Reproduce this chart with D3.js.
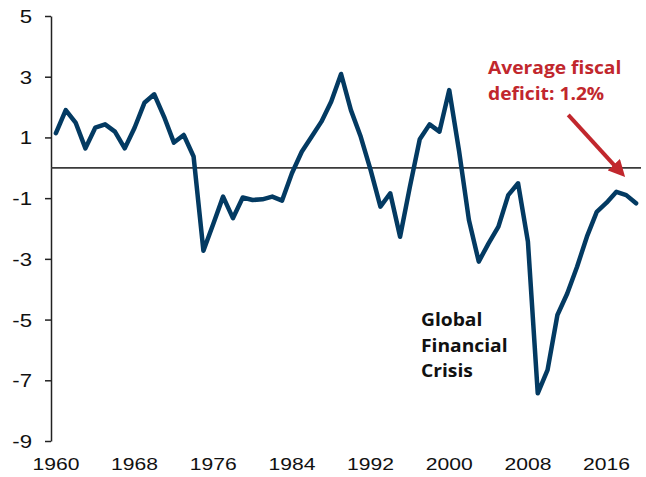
<!DOCTYPE html>
<html>
<head>
<meta charset="utf-8">
<script src="https://cdn.jsdelivr.net/npm/d3@7"></script>
<style>
  body { margin: 0; background: #fff; }
  svg { display: block; }
  .axis text { font-family: "Liberation Sans", Arial, sans-serif; fill: #111; }
  .note { font-family: "Open Sans", "Lato", sans-serif; font-weight: 700; }
</style>
</head>
<body>
<svg id="chart"></svg>
<script>
// fiscal balance, % of GDP, 1960-2019
const years = d3.range(1960, 2020)
const balance = [
  1.14, 1.90, 1.49, 0.64, 1.32, 1.43, 1.19, 0.64, 1.32, 2.14,
  2.42, 1.68, 0.83, 1.08, 0.37, -2.73, -1.85, -0.95, -1.66, -0.98,
  -1.06, -1.04, -0.95, -1.08, -0.18, 0.53, 1.02, 1.52, 2.18, 3.09,
  1.90, 1.02, -0.07, -1.28, -0.84, -2.27, -0.62, 0.94, 1.43, 1.19,
  2.56, 0.55, -1.72, -3.09, -2.49, -1.94, -0.90, -0.51, -2.43, -7.43,
  -6.66, -4.85, -4.14, -3.26, -2.27, -1.45, -1.15, -0.79, -0.90, -1.17
]
const xTicks = [1960, 1968, 1976, 1984, 1992, 2000, 2008, 2016]
const yTicks = [-9, -7, -5, -3, -1, 1, 3, 5]

const width = 646, height = 477
const margin = { top: 16, right: 5, bottom: 36, left: 51 }

const svg = d3.select('#chart')
  .attr('width', width)
  .attr('height', height)

const x = d3.scaleBand()
  .domain(years)
  .range([margin.left, width - margin.right])
  .padding(0)
const y = d3.scaleLinear()
  .domain([-9, 5])
  .range([height - margin.bottom, margin.top])

const cx = d => x(d) + x.bandwidth() / 2

// y axis
const gy = svg.append('g')
  .attr('class', 'axis')
  .attr('transform', `translate(${margin.left},0)`)
  .call(d3.axisLeft(y).tickValues(yTicks).tickSize(6).tickSizeOuter(0).tickFormat(d => String(d)))
gy.select('.domain').attr('stroke', '#222').attr('stroke-width', 1.5)
gy.selectAll('.tick line').attr('stroke', '#222').attr('stroke-width', 1.5)
gy.selectAll('.tick text')
  .attr('x', null).attr('dy', '0.35em')
  .attr('font-size', 18.5)
  .attr('transform', 'translate(-19,0) scale(1.2,1)')

// x axis labels, no line
const gx = svg.append('g')
  .attr('class', 'axis')
  .attr('transform', `translate(0,${height - margin.bottom})`)
  .call(d3.axisBottom(x).tickValues(xTicks).tickSize(0))
gx.select('.domain').remove()
gx.selectAll('.tick text')
  .attr('y', null).attr('dy', null)
  .attr('font-size', 16.5)
  .attr('transform', 'translate(0,29) scale(1.28,1)')

// zero line
svg.append('line')
  .attr('x1', margin.left).attr('x2', width - margin.right)
  .attr('y1', y(0)).attr('y2', y(0))
  .attr('stroke', '#3a3a3a').attr('stroke-width', 1.8)

// series
const line = d3.line()
  .x((d, i) => cx(years[i]))
  .y(d => y(d))
svg.append('path')
  .datum(balance)
  .attr('fill', 'none')
  .attr('stroke', '#033A62')
  .attr('stroke-width', 4.5)
  .attr('stroke-linejoin', 'round')
  .attr('stroke-linecap', 'round')
  .attr('d', line)

// annotations
svg.append('defs').append('marker')
  .attr('id', 'head')
  .attr('viewBox', '0 0 10 10')
  .attr('refX', 5).attr('refY', 5)
  .attr('markerWidth', 4.2).attr('markerHeight', 4.2)
  .attr('orient', 'auto')
  .append('path')
  .attr('d', 'M0,0L10,5L0,10z')
  .attr('fill', '#C1272D')

svg.append('line')
  .attr('x1', cx(2012) + 1).attr('y1', y(1.74))
  .attr('x2', cx(2017) + 3).attr('y2', y(-0.1))
  .attr('stroke', '#C1272D').attr('stroke-width', 4)
  .attr('marker-end', 'url(#head)')

const red = svg.append('text')
  .attr('class', 'note')
  .attr('fill', '#C1272D')
  .attr('font-size', 18.5)
  .attr('transform', 'translate(488,0) scale(1.04,1)')
red.append('tspan').attr('x', 0).attr('y', 74).text('Average fiscal')
red.append('tspan').attr('x', 0).attr('y', 100).text('deficit: 1.2%')

const gfc = svg.append('text')
  .attr('class', 'note')
  .attr('fill', '#111')
  .attr('font-size', 17.5)
  .attr('transform', 'translate(421,0) scale(1.1,1)')
gfc.append('tspan').attr('x', 0).attr('y', 326).text('Global')
gfc.append('tspan').attr('x', 0).attr('y', 352).text('Financial')
gfc.append('tspan').attr('x', 0).attr('y', 377).text('Crisis')
</script>
</body>
</html>
